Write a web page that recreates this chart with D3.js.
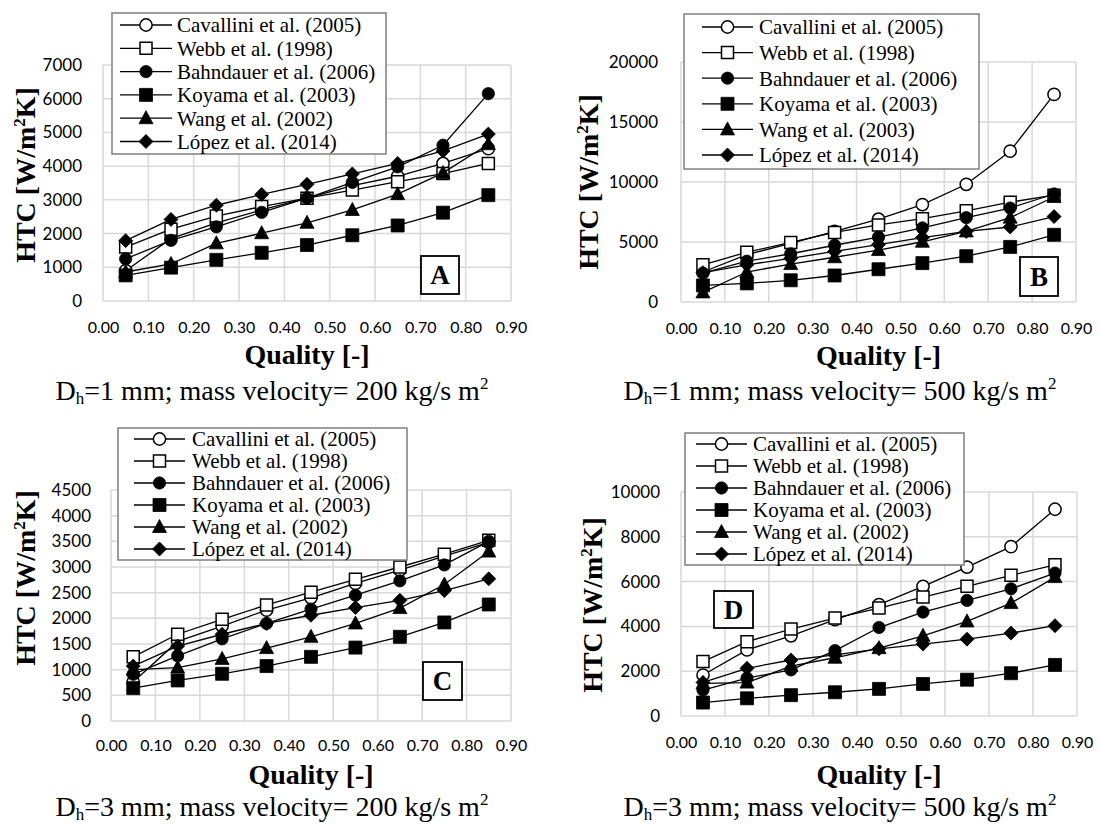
<!DOCTYPE html>
<html><head><meta charset="utf-8">
<script src="https://cdn.jsdelivr.net/npm/d3@7"></script>
<style>
body{margin:0;background:#fff}
svg text{font-family:"Liberation Serif", serif;}
svg text.tk{font-family:Lato, sans-serif;}
</style>
</head><body>
<svg id="chart" width="1099" height="824"></svg>
<script>
// ---------- data ----------
const qualities = [0.05, 0.15, 0.25, 0.35, 0.45, 0.55, 0.65, 0.75, 0.85];
const xTickValues = [0, 0.1, 0.2, 0.3, 0.4, 0.5, 0.6, 0.7, 0.8, 0.9];
const seriesNames = ["Cavallini et al. (2005)", "Webb et al. (1998)", "Bahndauer et al. (2006)", "Koyama et al. (2003)", "Wang et al. (2002)", "López et al. (2014)"];
const seriesNamesB = ["Cavallini et al. (2005)", "Webb et al. (1998)", "Bahndauer et al. (2006)", "Koyama et al. (2003)", "Wang et al. (2003)", "López et al. (2014)"];
const markerTypes = ["openCircle", "openSquare", "circle", "square", "triangle", "diamond"];

const yTicksA = [0, 1000, 2000, 3000, 4000, 5000, 6000, 7000];
const yTicksB = [0, 5000, 10000, 15000, 20000];
const yTicksC = [0, 500, 1000, 1500, 2000, 2500, 3000, 3500, 4000, 4500];
const yTicksD = [0, 2000, 4000, 6000, 8000, 10000];

// Panel A: Dh=1 mm, G=200
const A_Cavallini = [900, 1850, 2320, 2700, 3050, 3420, 3700, 4080, 4520];
const A_Webb      = [1600, 2130, 2520, 2800, 3050, 3290, 3540, 3780, 4080];
const A_Bahndauer = [1250, 1800, 2200, 2630, 3050, 3520, 3980, 4620, 6150];
const A_Koyama    = [760, 990, 1220, 1430, 1660, 1950, 2240, 2620, 3140];
const A_Wang      = [860, 1100, 1710, 2010, 2320, 2700, 3170, 3800, 4650];
const A_Lopez     = [1790, 2420, 2840, 3160, 3460, 3770, 4080, 4450, 4950];

// Panel B: Dh=1 mm, G=500
const B_Cavallini = [2500, 3950, 4880, 5880, 6900, 8120, 9810, 12570, 17300];
const B_Webb      = [3100, 4150, 4960, 5800, 6420, 6940, 7600, 8320, 8900];
const B_Bahndauer = [2400, 3400, 4020, 4730, 5400, 6170, 7030, 7830, 9000];
const B_Koyama    = [1380, 1550, 1810, 2210, 2730, 3240, 3820, 4590, 5600];
const B_Wang      = [800, 2500, 3160, 3730, 4330, 5020, 5880, 7030, 8750];
const B_Lopez     = [2440, 3100, 3640, 4220, 4790, 5370, 5880, 6250, 7120];

// Panel C: Dh=3 mm, G=200
const C_Cavallini = [760, 1550, 1850, 2160, 2400, 2680, 2940, 3210, 3480];
const C_Webb      = [1250, 1690, 1980, 2260, 2510, 2760, 3000, 3250, 3520];
const C_Bahndauer = [910, 1270, 1600, 1900, 2180, 2450, 2730, 3040, 3500];
const C_Koyama    = [640, 790, 920, 1070, 1250, 1430, 1640, 1920, 2270];
const C_Wang      = [1000, 1040, 1210, 1420, 1640, 1900, 2200, 2660, 3300];
const C_Lopez     = [1070, 1460, 1690, 1900, 2060, 2210, 2350, 2540, 2770];

// Panel D: Dh=3 mm, G=500
const D_Cavallini = [1830, 2950, 3580, 4300, 4970, 5790, 6650, 7560, 9230];
const D_Webb      = [2430, 3320, 3880, 4370, 4820, 5310, 5790, 6280, 6750];
const D_Bahndauer = [1160, 1690, 2060, 2920, 3950, 4640, 5160, 5680, 6380];
const D_Koyama    = [600, 790, 930, 1060, 1210, 1430, 1620, 1910, 2280];
const D_Wang      = [1460, 1490, 2230, 2600, 3030, 3580, 4220, 5040, 6200];
const D_Lopez     = [1500, 2130, 2500, 2730, 3000, 3210, 3430, 3700, 4030];

// ---------- layout ----------
const panels = [
  { id: "A", names: seriesNames, series: [A_Cavallini, A_Webb, A_Bahndauer, A_Koyama, A_Wang, A_Lopez],
    yTicks: yTicksA, plot: {x0: 103, x1: 511, y0: 65, y1: 301},
    legend: {x: 112, y: 13, w: 274, h: 141, row0: 12, step: 23.3, lx0: 8, lx1: 60, tx: 65},
    box: {x: 421, y: 256, w: 38, h: 38}, yTitle: {x: 25, y: 175}, tickPad: 21, xPad: 21,
    qualityY: 364, caption: {x: 272, y: 400, d: "1", g: "200"} },
  { id: "B", names: seriesNamesB, series: [B_Cavallini, B_Webb, B_Bahndauer, B_Koyama, B_Wang, B_Lopez],
    yTicks: yTicksB, plot: {x0: 681, x1: 1076, y0: 62, y1: 302},
    legend: {x: 684, y: 14, w: 295, h: 155, row0: 13, step: 25.6, lx0: 18, lx1: 69, tx: 75},
    box: {x: 1020, y: 257, w: 38, h: 39}, yTitle: {x: 588, y: 182}, tickPad: 23, xPad: 21,
    qualityY: 365, caption: {x: 840, y: 400, d: "1", g: "500"} },
  { id: "C", names: seriesNames, series: [C_Cavallini, C_Webb, C_Bahndauer, C_Koyama, C_Wang, C_Lopez],
    yTicks: yTicksC, plot: {x0: 111, x1: 511, y0: 490, y1: 721},
    legend: {x: 118, y: 428, w: 289, h: 132, row0: 11, step: 22, lx0: 16, lx1: 67, tx: 74},
    box: {x: 423, y: 662, w: 39, h: 38}, yTitle: {x: 25, y: 578}, tickPad: 20, xPad: 19,
    qualityY: 784, caption: {x: 272, y: 816, d: "3", g: "200"} },
  { id: "D", names: seriesNames, series: [D_Cavallini, D_Webb, D_Bahndauer, D_Koyama, D_Wang, D_Lopez],
    yTicks: yTicksD, plot: {x0: 681, x1: 1077, y0: 492, y1: 716},
    legend: {x: 685, y: 433, w: 279, h: 132, row0: 11, step: 22, lx0: 11, lx1: 62, tx: 68},
    box: {x: 714, y: 591, w: 39, h: 37}, yTitle: {x: 592, y: 605}, tickPad: 21, xPad: 21,
    qualityY: 784, caption: {x: 840, y: 816, d: "3", g: "500"} }
];

const svg = d3.select("#chart");

function markerPath(type) {
  switch (type) {
    case "openCircle": case "circle": return d3.symbol().type(d3.symbolCircle).size(118)();
    case "openSquare": return "M-6,-6H6V6H-6Z";
    case "square": return "M-6.5,-6.5H6.5V6.5H-6.5Z";
    case "triangle": return "M0,-7.5L7,5.5H-7Z";
    case "diamond": return "M0,-7L7,0L0,7L-7,0Z";
  }
}
function drawMarker(g, type, x, y) {
  const open = type.startsWith("open");
  g.append("path")
    .attr("d", markerPath(type))
    .attr("transform", `translate(${x},${y})`)
    .attr("fill", open ? "#fff" : "#000")
    .attr("stroke", "#000")
    .attr("stroke-width", open ? 1.5 : 0.8);
}

panels.forEach(p => {
  const g = svg.append("g");
  const x = d3.scaleLinear().domain([0, 0.9]).range([p.plot.x0, p.plot.x1]);
  const yMax = p.yTicks[p.yTicks.length - 1];
  const y = d3.scaleLinear().domain([0, yMax]).range([p.plot.y1, p.plot.y0]);

  // gridlines
  g.append("g").selectAll("line").data(p.yTicks).join("line")
    .attr("x1", p.plot.x0).attr("x2", p.plot.x1)
    .attr("y1", d => y(d)).attr("y2", d => y(d))
    .attr("stroke", "#d9d9d9").attr("stroke-width", 1.5);
  g.append("g").selectAll("line").data(xTickValues).join("line")
    .attr("x1", d => x(d)).attr("x2", d => x(d))
    .attr("y1", p.plot.y0).attr("y2", p.plot.y1)
    .attr("stroke", "#d9d9d9").attr("stroke-width", 1.5);

  // axes (labels only)
  const yAxis = g.append("g").attr("transform", `translate(${p.plot.x0},0)`)
    .call(d3.axisLeft(y).tickValues(p.yTicks).tickSize(0).tickPadding(p.tickPad).tickFormat(d3.format("d")));
  yAxis.select(".domain").remove();
  yAxis.attr("font-family", null).attr("font-size", null);
  yAxis.selectAll("text").attr("class", "tk").attr("font-size", 17).attr("fill", "#000");

  const xAxis = g.append("g").attr("transform", `translate(0,${p.plot.y1})`)
    .call(d3.axisBottom(x).tickValues(xTickValues).tickSize(0).tickPadding(p.xPad).tickFormat(d3.format(".2f")));
  xAxis.select(".domain").remove();
  xAxis.attr("font-family", null).attr("font-size", null);
  xAxis.selectAll("text").attr("class", "tk").attr("font-size", 16).attr("fill", "#000");

  // series
  const line = d3.line().x((d, i) => x(qualities[i])).y(d => y(d));
  p.series.forEach((vals, si) => {
    const sg = g.append("g");
    sg.append("path").datum(vals).attr("d", line)
      .attr("fill", "none").attr("stroke", "#000").attr("stroke-width", 1.3);
    vals.forEach((v, i) => drawMarker(sg, markerTypes[si], x(qualities[i]), y(v)));
  });

  // legend
  const L = p.legend;
  const lg = g.append("g").attr("transform", `translate(${L.x},${L.y})`);
  lg.append("rect").attr("width", L.w).attr("height", L.h)
    .attr("fill", "#fff").attr("stroke", "#7f7f7f").attr("stroke-width", 1.5);
  p.names.forEach((name, i) => {
    const ry = L.row0 + i * L.step;
    lg.append("line").attr("x1", L.lx0).attr("x2", L.lx1).attr("y1", ry).attr("y2", ry)
      .attr("stroke", "#000").attr("stroke-width", 1.3);
    drawMarker(lg, markerTypes[i], (L.lx0 + L.lx1) / 2, ry);
    lg.append("text").attr("x", L.tx).attr("y", ry).attr("dy", "0.35em")
      .attr("font-size", 21).text(name);
  });

  // panel letter box
  g.append("rect").attr("x", p.box.x).attr("y", p.box.y).attr("width", p.box.w).attr("height", p.box.h)
    .attr("fill", "#fff").attr("stroke", "#000").attr("stroke-width", 1.8);
  g.append("text").attr("x", p.box.x + p.box.w / 2).attr("y", p.box.y + p.box.h / 2).attr("dy", "0.35em")
    .attr("text-anchor", "middle").attr("font-weight", "bold")
    .attr("font-size", 27).text(p.id);

  // y title
  const yt = g.append("text")
    .attr("transform", `translate(${p.yTitle.x},${p.yTitle.y}) rotate(-90)`)
    .attr("text-anchor", "middle").attr("dy", "0.35em")
    .attr("font-weight", "bold").attr("font-size", 28);
  yt.append("tspan").text("HTC [W/m");
  yt.append("tspan").attr("font-size", 17).attr("dy", "-0.55em").text("2");
  yt.append("tspan").attr("dy", "0.35em").text("K]");

  // x title
  g.append("text").attr("x", (p.plot.x0 + p.plot.x1) / 2).attr("y", p.qualityY)
    .attr("text-anchor", "middle").attr("font-weight", "bold")
    .attr("font-size", 28).text("Quality [-]");

  // caption
  const c = g.append("text").attr("x", p.caption.x).attr("y", p.caption.y)
    .attr("text-anchor", "middle").attr("font-size", 28);
  c.append("tspan").text("D");
  c.append("tspan").attr("font-size", 17).attr("dy", 4).text("h");
  c.append("tspan").attr("dy", -4).text(`=${p.caption.d} mm; mass velocity= ${p.caption.g} kg/s m`);
  c.append("tspan").attr("font-size", 17).attr("dy", -11).text("2");
});
</script>
</body></html>
